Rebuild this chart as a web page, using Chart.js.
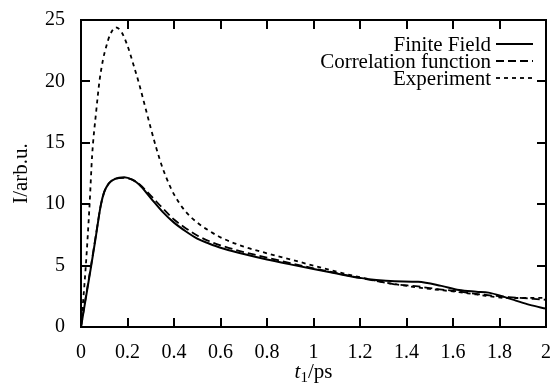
<!DOCTYPE html>
<html>
<head>
<meta charset="utf-8">
<script src="https://cdn.jsdelivr.net/npm/chart.js@4/dist/chart.umd.min.js"></script>
<style>
  html, body { margin: 0; padding: 0; background: #fff; }
  #wrap { width: 557px; height: 385px; }
</style>
</head>
<body>
<div id="wrap"><canvas id="plot" width="557" height="385"></canvas></div>
<script>
// Series (t1 in ps, I in arb. units)
const seriesLabels = ['Finite Field', 'Correlation function', 'Experiment'];

const ffT = [0, 0.022, 0.044, 0.065, 0.085, 0.1, 0.12, 0.145, 0.186, 0.22, 0.25, 0.3, 0.35, 0.4, 0.45, 0.5, 0.55, 0.6, 0.7, 0.8, 0.9, 1.0, 1.1, 1.2, 1.27, 1.35, 1.45, 1.55, 1.626, 1.7, 1.753, 1.82, 1.87, 1.93, 2.0];
const ffI = [0, 2.5, 5.0, 7.5, 9.9, 11.0, 11.7, 12.05, 12.2, 12.0, 11.6, 10.5, 9.4, 8.5, 7.8, 7.2, 6.8, 6.45, 5.95, 5.5, 5.1, 4.72, 4.35, 4.0, 3.82, 3.72, 3.68, 3.35, 3.02, 2.88, 2.8, 2.45, 2.15, 1.8, 1.5];

const cfT = [0, 0.022, 0.044, 0.065, 0.085, 0.1, 0.12, 0.145, 0.186, 0.22, 0.25, 0.3, 0.35, 0.4, 0.45, 0.5, 0.55, 0.6, 0.7, 0.8, 0.9, 1.0, 1.1, 1.2, 1.343, 1.45, 1.528, 1.6, 1.698, 1.84, 2.0];
const cfI = [0, 2.6, 5.1, 7.6, 9.9, 11.0, 11.7, 12.05, 12.15, 12.0, 11.65, 10.7, 9.7, 8.75, 8.05, 7.45, 7.0, 6.65, 6.1, 5.65, 5.2, 4.78, 4.38, 4.0, 3.5, 3.3, 3.1, 2.95, 2.7, 2.44, 2.22];

const exT = [0, 0.02, 0.037, 0.048, 0.065, 0.08, 0.095, 0.108, 0.125, 0.15, 0.175, 0.2, 0.225, 0.25, 0.275, 0.3, 0.325, 0.35, 0.375, 0.4, 0.45, 0.5, 0.55, 0.6, 0.7, 0.8, 0.9, 1.0, 1.1, 1.2, 1.3, 1.41, 1.5, 1.626, 1.7, 1.84, 2.0];
const exI = [0, 4.8, 10.0, 14.0, 17.5, 20.1, 21.8, 22.8, 23.8, 24.4, 24.0, 22.9, 21.4, 19.8, 18.0, 16.2, 14.5, 13.0, 11.8, 10.8, 9.4, 8.5, 7.85, 7.3, 6.55, 6.0, 5.5, 5.0, 4.5, 4.05, 3.65, 3.32, 3.1, 2.84, 2.65, 2.36, 2.38];

const xTicks = [0, 0.2, 0.4, 0.6, 0.8, 1, 1.2, 1.4, 1.6, 1.8, 2];
const yTicks = [0, 5, 10, 15, 20, 25];

const SERIF = '"Liberation Serif", Tinos, "Times New Roman", Times, "DejaVu Serif", serif';
const lineDashes = [[], [8, 4], [4, 4]];

function toPoints(ts, vals) {
  return ts.map((t, i) => ({ x: t, y: vals[i] }));
}

// inward ticks, frame, axis titles and the legend (text left of sample line)
const gnuplotLook = {
  id: 'gnuplotLook',
  afterDatasetsDraw(chart) {
    const ctx = chart.ctx;
    const a = chart.chartArea;
    const xs = chart.scales.x;
    const ys = chart.scales.y;
    const tick = 9;

    ctx.save();
    ctx.strokeStyle = '#000';
    ctx.lineWidth = 2;
    ctx.beginPath();
    xs.ticks.forEach(t => {
      const px = Math.round(xs.getPixelForValue(t.value));
      ctx.moveTo(px, a.bottom); ctx.lineTo(px, a.bottom - tick);
      ctx.moveTo(px, a.top); ctx.lineTo(px, a.top + tick);
    });
    ys.ticks.forEach(t => {
      const py = Math.round(ys.getPixelForValue(t.value));
      ctx.moveTo(a.left, py); ctx.lineTo(a.left + tick, py);
      ctx.moveTo(a.right, py); ctx.lineTo(a.right - tick, py);
    });
    ctx.stroke();
    ctx.strokeRect(a.left, a.top, a.right - a.left, a.bottom - a.top);

    // y title
    ctx.fillStyle = '#000';
    ctx.font = '21px ' + SERIF;
    ctx.textAlign = 'center';
    ctx.textBaseline = 'middle';
    ctx.save();
    ctx.translate(21, (a.top + a.bottom) / 2);
    ctx.rotate(-Math.PI / 2);
    ctx.fillText('I/arb.u.', 0, 0);
    ctx.restore();

    // x title: italic t, subscript 1, /ps
    ctx.textBaseline = 'alphabetic';
    ctx.textAlign = 'left';
    const fItal = 'italic 21px ' + SERIF;
    const fSub = '15px ' + SERIF;
    const fReg = '21px ' + SERIF;
    ctx.font = fItal; const w1 = ctx.measureText('t').width;
    ctx.font = fSub; const w2 = ctx.measureText('1').width;
    ctx.font = fReg; const w3 = ctx.measureText('/ps').width;
    let cx = (a.left + a.right) / 2 - (w1 + w2 + w3) / 2;
    const base = 378;
    ctx.font = fItal; ctx.fillText('t', cx, base); cx += w1;
    ctx.font = fSub; ctx.fillText('1', cx, base + 4); cx += w2;
    ctx.font = fReg; ctx.fillText('/ps', cx, base);

    // legend
    const rows = [44, 61, 78];
    ctx.font = '21px ' + SERIF;
    ctx.textAlign = 'right';
    chart.data.datasets.forEach((ds, i) => {
      ctx.fillText(ds.label, 491, rows[i] + 7);
      ctx.beginPath();
      ctx.setLineDash(ds.borderDash || []);
      ctx.lineWidth = ds.borderWidth;
      ctx.moveTo(496, rows[i]);
      ctx.lineTo(533, rows[i]);
      ctx.stroke();
    });
    ctx.setLineDash([]);
    ctx.restore();
  }
};

const datasets = [
  toPoints(ffT, ffI),
  toPoints(cfT, cfI),
  toPoints(exT, exI)
].map((pts, i) => ({
  label: seriesLabels[i],
  data: pts,
  borderColor: '#000',
  borderWidth: i === 0 ? 2 : 1.8,
  borderDash: lineDashes[i],
  pointRadius: 0,
  cubicInterpolationMode: 'monotone',
  fill: false
}));

new Chart(document.getElementById('plot'), {
  type: 'line',
  data: { datasets: datasets },
  options: {
    responsive: false,
    animation: false,
    layout: { padding: { left: 0, right: 6, top: 16, bottom: 0 } },
    plugins: { legend: { display: false }, tooltip: { enabled: false } },
    scales: {
      x: {
        type: 'linear',
        min: 0, max: 2,
        grid: { display: false },
        border: { display: false },
        afterBuildTicks: s => { s.ticks = xTicks.map(v => ({ value: v })); },
        afterFit: s => { s.height = 58; },
        ticks: {
          color: '#000',
          padding: 6,
          maxRotation: 0,
          font: { family: SERIF, size: 20 },
          callback: v => String(Number(v.toFixed(1)))
        }
      },
      y: {
        min: 0, max: 25,
        grid: { display: false },
        border: { display: false },
        afterBuildTicks: s => { s.ticks = yTicks.map(v => ({ value: v })); },
        afterFit: s => { s.width = 81; },
        ticks: {
          color: '#000',
          padding: 8,
          font: { family: SERIF, size: 20 },
          callback: v => String(v)
        }
      }
    }
  },
  plugins: [gnuplotLook]
});
</script>
</body>
</html>
